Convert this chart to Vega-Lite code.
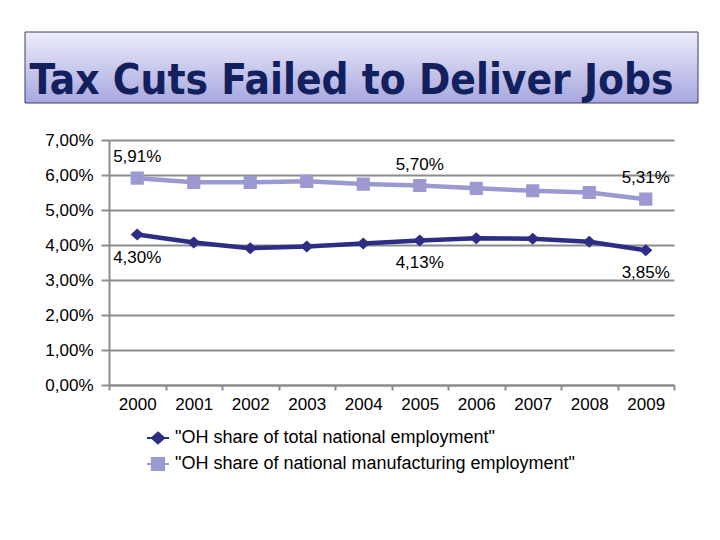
{
  "$schema": "https://vega.github.io/schema/vega-lite/v6.json",
  "padding": {"left": 24, "top": 31, "right": 0, "bottom": 0},
  "background": "white",
  "spacing": 27,
  "config": {
    "locale": {"number": {"decimal": ",", "thousands": ".", "grouping": [3], "currency": ["", " €"]}},
    "font": "Liberation Sans",
    "view": {"stroke": null}
  },
  "vconcat": [
    {
      "width": 673,
      "height": 71,
      "data": {"values": [{"title": "Tax Cuts Failed to Deliver Jobs"}]},
      "layer": [
        {
          "mark": {
            "type": "rect",
            "fill": {"gradient": "linear", "x1": 0, "y1": 0, "x2": 0, "y2": 1,
              "stops": [{"offset": 0, "color": "#ededfb"}, {"offset": 1, "color": "#a7a7df"}]},
            "stroke": "#3b3b6f",
            "strokeWidth": 1
          },
          "encoding": {}
        },
        {
          "mark": {
            "type": "text", "align": "left", "baseline": "alphabetic",
            "dx": -332, "dy": 26,
            "font": "DejaVu Sans Condensed, Liberation Sans, sans-serif", "fontSize": 42, "fontWeight": "bold",
            "color": "#13205e"
          },
          "encoding": {"text": {"field": "title"}}
        }
      ]
    },
    {
      "spacing": 18,
      "hconcat": [
        {
          "width": 1,
          "height": 1,
          "view": {"fill": "#ffffff", "stroke": null},
          "data": {"values": []},
          "mark": "point"
        },
        {
          "width": 565,
          "height": 245,
          "data": {"values": [
            {"year": 2000, "series": "\"OH share of total national employment\"", "value": 0.0430},
            {"year": 2001, "series": "\"OH share of total national employment\"", "value": 0.0407},
            {"year": 2002, "series": "\"OH share of total national employment\"", "value": 0.0391},
            {"year": 2003, "series": "\"OH share of total national employment\"", "value": 0.0396},
            {"year": 2004, "series": "\"OH share of total national employment\"", "value": 0.0404},
            {"year": 2005, "series": "\"OH share of total national employment\"", "value": 0.0413},
            {"year": 2006, "series": "\"OH share of total national employment\"", "value": 0.0419},
            {"year": 2007, "series": "\"OH share of total national employment\"", "value": 0.0418},
            {"year": 2008, "series": "\"OH share of total national employment\"", "value": 0.0409},
            {"year": 2009, "series": "\"OH share of total national employment\"", "value": 0.0385},
            {"year": 2000, "series": "\"OH share of national manufacturing employment\"", "value": 0.0591},
            {"year": 2001, "series": "\"OH share of national manufacturing employment\"", "value": 0.0579},
            {"year": 2002, "series": "\"OH share of national manufacturing employment\"", "value": 0.0579},
            {"year": 2003, "series": "\"OH share of national manufacturing employment\"", "value": 0.0582},
            {"year": 2004, "series": "\"OH share of national manufacturing employment\"", "value": 0.0574},
            {"year": 2005, "series": "\"OH share of national manufacturing employment\"", "value": 0.0570},
            {"year": 2006, "series": "\"OH share of national manufacturing employment\"", "value": 0.0562},
            {"year": 2007, "series": "\"OH share of national manufacturing employment\"", "value": 0.0555},
            {"year": 2008, "series": "\"OH share of national manufacturing employment\"", "value": 0.0550},
            {"year": 2009, "series": "\"OH share of national manufacturing employment\"", "value": 0.0531}
          ]},
          "encoding": {
            "x": {
              "field": "year", "type": "ordinal",
              "scale": {"type": "band", "paddingInner": 0, "paddingOuter": 0},
              "axis": {
                "title": null, "labelAngle": 0, "tickBand": "extent", "grid": false,
                "labelFontSize": 17, "labelColor": "#000000", "labelFont": "Liberation Sans",
                "labelPadding": 6, "tickSize": 5, "tickColor": "#8c8c8c", "tickWidth": 2,
                "domainColor": "#8c8c8c", "domainWidth": 2
              }
            },
            "y": {
              "field": "value", "type": "quantitative",
              "scale": {"domain": [0, 0.07], "nice": false, "zero": true},
              "axis": {
                "title": null,
                "values": [0, 0.01, 0.02, 0.03, 0.04, 0.05, 0.06, 0.07],
                "format": ".2%", "labelFontSize": 17, "labelColor": "#000000", "labelFont": "Liberation Sans",
                "labelPadding": 8, "tickSize": 8, "tickColor": "#8c8c8c", "tickWidth": 2,
                "domainColor": "#8c8c8c", "domainWidth": 2,
                "grid": true, "gridColor": "#8c8c8c", "gridWidth": 2
              }
            },
            "color": {
              "field": "series", "type": "nominal",
              "scale": {
                "domain": ["\"OH share of total national employment\"", "\"OH share of national manufacturing employment\""],
                "range": ["#2b2e83", "#9a9ad0"]
              },
              "legend": {
                "title": null, "orient": "none", "legendX": 121, "legendY": 394,
                "direction": "vertical", "padding": 0, "rowPadding": 4,
                "symbolSize": 484, "symbolStrokeWidth": 2,
                "labelFontSize": 18, "labelColor": "#000000", "labelFont": "Liberation Sans",
                "labelOffset": 5, "labelLimit": 0,
                "encode": {"symbols": {"update": {
                  "shape": {"signal": "indexof(datum.value, 'total') >= 0 ? 'M-1,0H1M0,-0.45L0.45,0L0,0.45L-0.45,0Z' : 'M-1,0H1M-0.45,-0.45H0.45V0.45H-0.45Z'"},
                  "fill": {"signal": "scale('color', datum.value)"},
                  "stroke": {"signal": "scale('color', datum.value)"},
                  "strokeWidth": {"value": 2},
                  "opacity": {"value": 1}
                }}}
              }
            }
          },
          "layer": [
            {
              "mark": {"type": "line", "strokeWidth": 4.5}
            },
            {
              "mark": {"type": "point", "filled": true, "opacity": 1, "size": 576, "strokeWidth": 0},
              "encoding": {
                "shape": {
                  "field": "series", "type": "nominal",
                  "scale": {
                    "domain": ["\"OH share of total national employment\"", "\"OH share of national manufacturing employment\""],
                    "range": ["M-1,0H1M0,-0.5L0.55,0L0,0.5L-0.55,0Z", "M-1,0H1M-0.55,-0.55H0.55V0.55H-0.55Z"]
                  },
                  "legend": null
                }
              }
            },
            {
              "transform": [
                {"filter": "indexof(datum.series, 'manufacturing') >= 0 && (datum.year == 2000 || datum.year == 2005 || datum.year == 2009)"}
              ],
              "mark": {"type": "text", "dy": -21, "fontSize": 17, "color": "#000000", "font": "Liberation Sans"},
              "encoding": {"text": {"field": "value", "type": "quantitative", "format": ".2%"}, "color": {"value": "#000000"}}
            },
            {
              "transform": [
                {"filter": "indexof(datum.series, 'total') >= 0 && (datum.year == 2000 || datum.year == 2005 || datum.year == 2009)"}
              ],
              "mark": {"type": "text", "dy": 23, "fontSize": 17, "color": "#000000", "font": "Liberation Sans"},
              "encoding": {"text": {"field": "value", "type": "quantitative", "format": ".2%"}, "color": {"value": "#000000"}}
            }
          ]
        }
      ]
    }
  ]
}
